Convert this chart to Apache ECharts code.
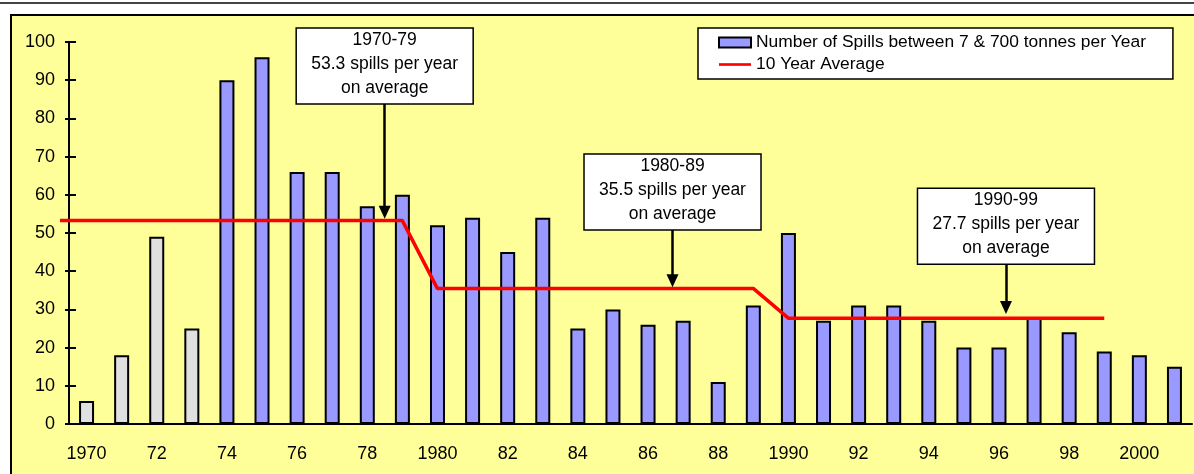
<!DOCTYPE html>
<html>
<head>
<meta charset="utf-8">
<script src="https://cdn.jsdelivr.net/npm/echarts@6/dist/echarts.min.js"></script>
<style>html,body{margin:0;padding:0;background:#fff}#c{width:1194px;height:474px}</style>
</head>
<body>
<div id="c"></div>
<script>
const categories = ['1970','1971','1972','1973','1974','1975','1976','1977','1978','1979',
  '1980','1981','1982','1983','1984','1985','1986','1987','1988','1989',
  '1990','1991','1992','1993','1994','1995','1996','1997','1998','1999','2000','2001'];
const xTickLabels = ['1970','','72','','74','','76','','78','',
  '1980','','82','','84','','86','','88','',
  '1990','','92','','94','','96','','98','','2000',''];
const spills = [6,18,49,25,90,96,66,66,57,60,
  52,54,45,54,25,30,26,27,11,31,
  50,27,31,31,27,20,20,28,24,19,18,15];
const greyYears = 4;
const lineYears = [1969.25, 1979, 1980, 1989, 1990, 1999];
const lineAvg = [53.3, 53.3, 35.5, 35.5, 27.7, 27.7];
const annTexts = [
  ['1970-79','53.3 spills per year','on average'],
  ['1980-89','35.5 spills per year','on average'],
  ['1990-99','27.7 spills per year','on average']
];
const annYears = [1978.5, 1986.7, 1996.2];
const annFrom = [83.8, 50.8, 41.8];
const annTo = [55.4, 37.5, 30.5];
const barName = 'Number of Spills between 7 & 700 tonnes per Year';
const lineName = '10 Year Average';

const FONT = '"Liberation Sans", Arial, sans-serif';
const chart = echarts.init(document.getElementById('c'));
const option = {
  animation: false,
  backgroundColor: '#fff',
  textStyle: { fontFamily: FONT },
  grid: [
    { left: 69, right: 2, top: 42, bottom: 50 },
    { left: 60, right: 2, top: 42, bottom: 50 }
  ],
  legend: {
    orient: 'vertical', left: 698, top: 28,
    backgroundColor: '#fff', borderColor: '#000', borderWidth: 1.5,
    padding: [6, 27, 6, 20], itemGap: 5, itemWidth: 32, itemHeight: 10,
    textStyle: { fontSize: 17.4, color: '#000', lineHeight: 17, fontFamily: FONT },
    data: [{ name: barName, icon: 'rect' },
           { name: lineName, icon: 'path://M0,0 L36,0 L36,3 L0,3 Z' }]
  },
  xAxis: [
    { type: 'category', data: categories, position: 'bottom', gridIndex: 0,
      axisLine: { onZero: false, lineStyle: { color: '#000', width: 2 } },
      axisTick: { interval: 0, length: 6, lineStyle: { color: '#000', width: 2 } },
      axisLabel: { interval: 0, formatter: (v, i) => xTickLabels[i], fontSize: 18, color: '#000', margin: 21, fontFamily: FONT },
      splitLine: { show: false } },
    { type: 'category', data: categories, position: 'bottom', gridIndex: 0,
      axisLine: { show: false },
      axisTick: { inside: true, interval: 0, length: 6, lineStyle: { color: '#000', width: 2 } },
      axisLabel: { show: false }, splitLine: { show: false } },
    { type: 'value', gridIndex: 1, min: lineYears[0], max: 2001.5, show: false, splitLine: { show: false } }
  ],
  yAxis: [
    { type: 'value', min: 0, max: 100, interval: 10, position: 'left', gridIndex: 0,
      axisLine: { show: true, onZero: false, lineStyle: { color: '#000', width: 2 } },
      axisTick: { show: true, length: 4, lineStyle: { color: '#000', width: 2 } },
      axisLabel: { fontSize: 18, color: '#000', margin: 14, fontFamily: FONT },
      splitLine: { show: false } },
    { type: 'value', min: 0, max: 100, interval: 10, position: 'left', gridIndex: 0,
      axisLine: { show: false },
      axisTick: { show: true, inside: true, length: 7, lineStyle: { color: '#000', width: 2 } },
      axisLabel: { show: false }, splitLine: { show: false } },
    { type: 'value', min: 0, max: 100, gridIndex: 1, show: false, splitLine: { show: false } }
  ],
  series: [
    { name: barName, type: 'bar', xAxisIndex: 0, yAxisIndex: 0, barWidth: 15,
      itemStyle: { color: '#9999FF', borderColor: '#000', borderWidth: 2 },
      data: spills.map((v, i) => i < greyYears ? { value: v, itemStyle: { color: '#E0E0E0' } } : v) },
    { name: lineName, type: 'line', xAxisIndex: 2, yAxisIndex: 2, z: 3, clip: false,
      symbol: 'none', lineStyle: { color: '#FF0000', width: 3.5 }, itemStyle: { color: '#FF0000' },
      data: lineYears.map((y, i) => [y, lineAvg[i]]),
      markLine: {
        silent: true, symbol: ['none', 'triangle'], symbolSize: [12, 13],
        lineStyle: { color: '#000', width: 2.5, type: 'solid' }, itemStyle: { color: '#000' },
        label: { show: false }, emphasis: { disabled: true },
        data: annYears.map((y, i) => [{ coord: [y, annFrom[i]] }, { coord: [y, annTo[i]] }])
      } }
  ],
  graphic: {
    elements: [
      { id: 'bg', type: 'rect', z: -100, silent: true,
        shape: { x: 11, y: 15, width: 1200, height: 480 },
        style: { fill: '#FFFF99', stroke: '#000', lineWidth: 2 } },
      { id: 'topline', type: 'line', z: -100, silent: true,
        shape: { x1: 0, y1: 3, x2: 1194, y2: 3 },
        style: { stroke: '#444', lineWidth: 2 } }
    ]
  }
};
chart.setOption(option);

const boxEls = [];
annYears.forEach((y, i) => {
  const p = chart.convertToPixel({ xAxisIndex: 2, yAxisIndex: 2 }, [y, annFrom[i]]);
  const w = 177, h = 76;
  boxEls.push({ id: 'box' + i, type: 'rect', z: 100, silent: true,
    shape: { x: p[0] - w / 2, y: p[1] - h, width: w, height: h },
    style: { fill: '#fff', stroke: '#000', lineWidth: 1.5 } });
  boxEls.push({ id: 'txt' + i, type: 'text', z: 101, silent: true,
    style: { text: annTexts[i].join('\n'), x: p[0], y: p[1] - h / 2 - 2,
      align: 'center', verticalAlign: 'middle', fontSize: 17.5, fontFamily: FONT,
      lineHeight: 24, fill: '#000' } });
});
chart.setOption({ graphic: { elements: boxEls } });
</script>
</body>
</html>
